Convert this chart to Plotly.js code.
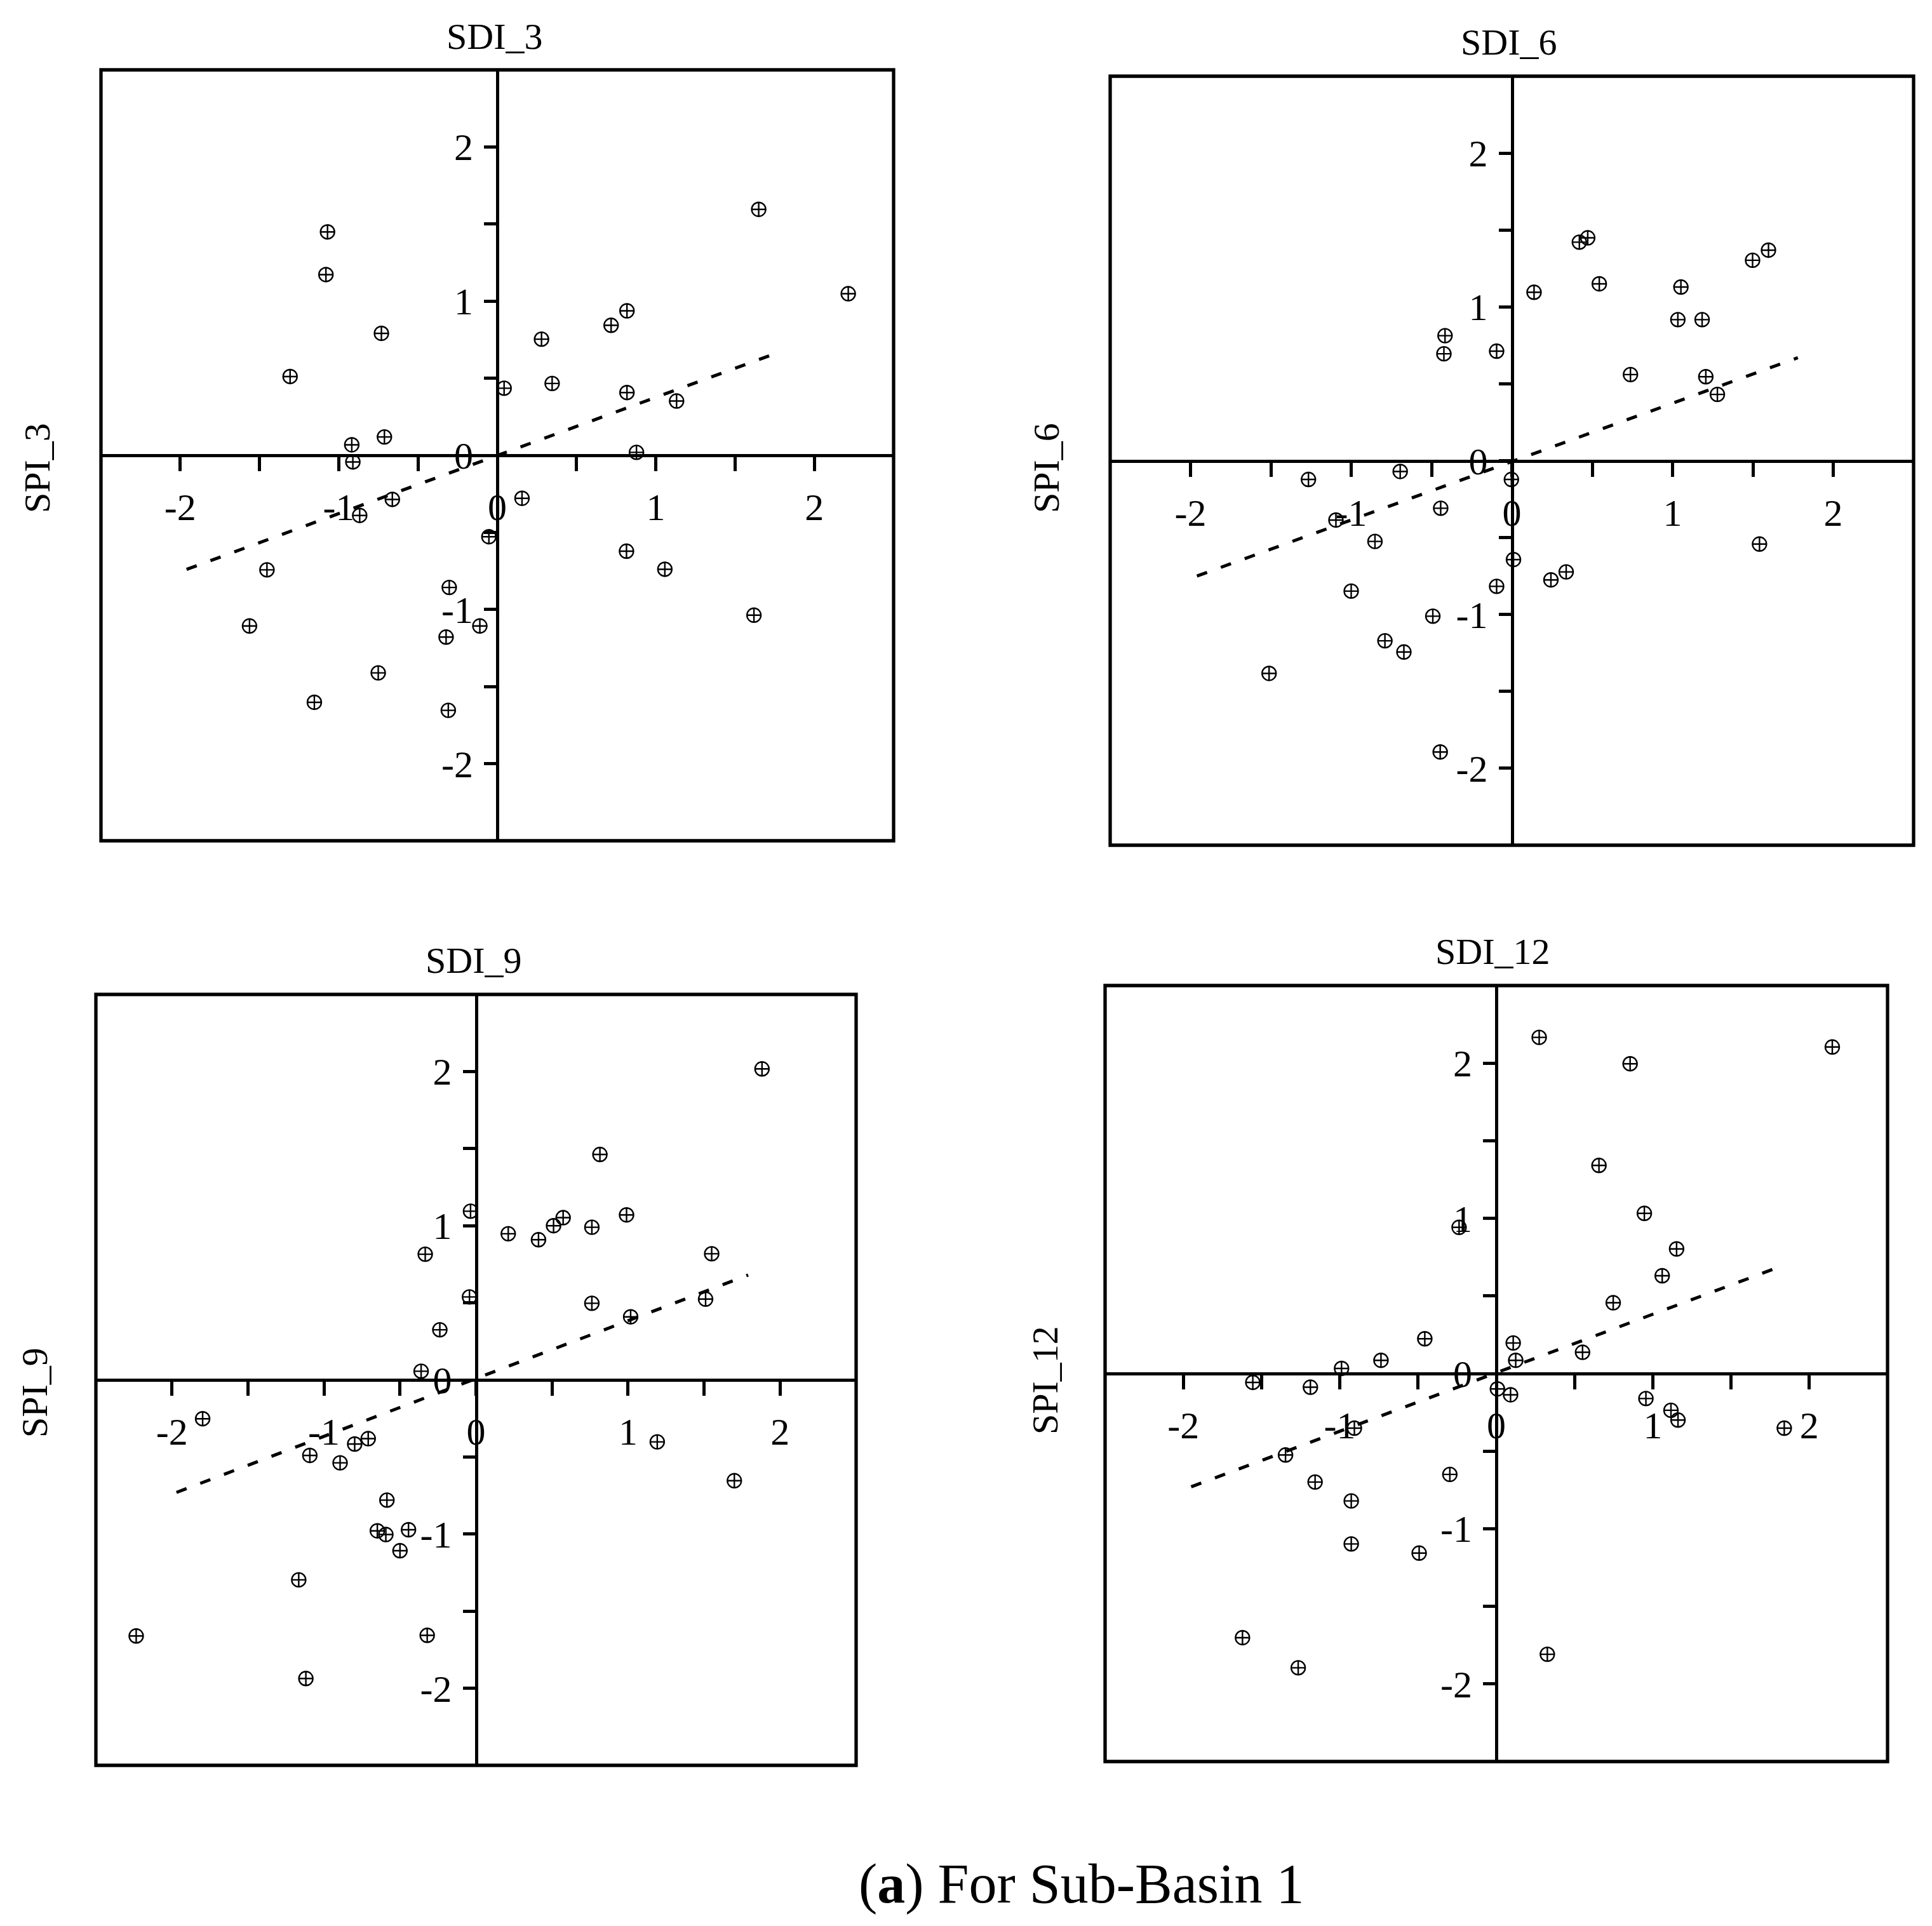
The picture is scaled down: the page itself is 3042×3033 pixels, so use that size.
<!DOCTYPE html>
<html>
<head>
<meta charset="utf-8">
<script src="https://cdn.plot.ly/plotly-3.0.1.min.js"></script>
<style>
  html, body { margin: 0; padding: 0; background: #fff; }
  #chart { width: 3042px; height: 3033px; }
</style>
</head>
<body>
<div id="chart"></div>
<script>
// ---------- data ----------
const sdi3 = [1.649, 2.214, -1.071, -1.081, -0.731, -1.307, 0.718, 0.818, 0.279, 0.043, 0.346, 0.818, 1.131, 0.878, -0.918, -0.911, -0.712, -0.662, -0.868, 0.156, -0.053, -1.453, -1.563, 0.815, 1.057, 1.619, -0.303, -0.323, -0.110, -0.751, -1.154, -0.309];
const spi3 = [1.595, 1.048, 1.449, 1.172, 0.791, 0.511, 0.843, 0.937, 0.753, 0.435, 0.466, 0.407, 0.352, 0.019, 0.068, -0.043, 0.119, -0.286, -0.390, -0.279, -0.528, -0.743, -1.107, -0.622, -0.739, -1.037, -0.857, -1.179, -1.107, -1.411, -1.602, -1.654];

const sdi6 = [0.420, 0.472, 0.544, 0.138, 1.498, 1.597, 1.052, 1.033, 1.184, -0.416, -0.423, -0.095, 0.738, 1.207, 1.279, -1.266, -0.695, -0.003, -1.095, -0.443, -0.852, 0.010, 0.243, 0.338, 1.541, -1.000, -0.095, -0.492, -0.790, -0.672, -1.511, -0.446];
const spi6 = [1.421, 1.449, 1.150, 1.095, 1.303, 1.369, 1.129, 0.917, 0.917, 0.813, 0.695, 0.712, 0.560, 0.546, 0.431, -0.122, -0.070, -0.122, -0.386, -0.309, -0.525, -0.643, -0.775, -0.723, -0.542, -0.848, -0.817, -1.011, -1.171, -1.244, -1.383, -1.894];

const sdi9 = [1.881, 0.815, -0.036, 0.990, 0.573, 0.510, 0.762, 0.212, 0.411, -0.334, 1.550, -0.043, 0.762, 1.510, 1.017, -0.238, -0.361, -1.798, -0.709, -0.798, -1.093, -0.894, 1.192, 1.699, -0.586, -0.649, -0.593, -0.444, -0.500, -1.166, -2.235, -0.321, -1.119];
const spi9 = [2.017, 1.462, 1.094, 1.070, 1.052, 1.000, 0.990, 0.948, 0.909, 0.815, 0.818, 0.538, 0.497, 0.524, 0.409, 0.325, 0.056, -0.252, -0.381, -0.416, -0.490, -0.538, -0.402, -0.654, -0.780, -0.979, -1.003, -0.972, -1.108, -1.297, -1.661, -1.657, -1.937];

const sdi12 = [0.274, 0.855, 2.147, 0.656, 0.946, -0.238, 1.152, 1.060, 0.747, -0.457, -0.737, -0.989, 0.108, 0.124, 0.551, -1.556, -1.188, 0.007, 0.091, 0.956, 1.116, 1.161, 1.840, -0.907, -1.347, -1.158, -0.297, -0.927, -0.927, -0.493, -1.622, -1.266, 0.326];
const spi12 = [2.166, 1.996, 2.104, 1.341, 1.032, 0.942, 0.803, 0.630, 0.456, 0.224, 0.085, 0.033, 0.197, 0.085, 0.137, -0.057, -0.088, -0.099, -0.137, -0.161, -0.237, -0.300, -0.352, -0.352, -0.525, -0.699, -0.650, -0.821, -1.098, -1.157, -1.702, -1.896, -1.809];

// fitted (dashed) line end points
const fit3X = [-1.96, 1.78],  fit3Y = [-0.74, 0.67];
const fit6X = [-1.96, 1.78],  fit6Y = [-0.75, 0.67];
const fit9X = [-1.97, 1.79],  fit9Y = [-0.73, 0.68];
const fit12X = [-1.95, 1.79], fit12Y = [-0.73, 0.68];

const tickVals = [-2, -1.5, -1, -0.5, 0, 0.5, 1, 1.5, 2];
const tickText = ['-2', '', '-1', '', '0', '', '1', '', '2'];

const xTitles = ['SDI_3', 'SDI_6', 'SDI_9', 'SDI_12'];
const yTitles = ['SPI_3', 'SPI_6', 'SPI_9', 'SPI_12'];
const caption = '(<b>a</b>) For Sub-Basin 1';

// ---------- layout geometry (pixels in the 3042x3033 page) ----------
const W = 3042, H = 3033;
const boxes = [
  {l: 159,  r: 1407, t: 110,  b: 1324},
  {l: 1748, r: 3013, t: 120,  b: 1331},
  {l: 151,  r: 1348, t: 1566, b: 2780},
  {l: 1740, r: 2972, t: 1552, b: 2774}
];
const titlePos = [
  {tx: 778, ty: 58,  yx: 58,   yy: 737},
  {tx: 2375, ty: 66, yx: 1647, yy: 737},
  {tx: 745, ty: 1512, yx: 54,  yy: 2193},
  {tx: 2350, ty: 1498, yx: 1645, yy: 2173}
];

const FONT = 'Liberation Serif, Times New Roman, serif';
const series = [[sdi3, spi3, fit3X, fit3Y], [sdi6, spi6, fit6X, fit6Y], [sdi9, spi9, fit9X, fit9Y], [sdi12, spi12, fit12X, fit12Y]];

const traces = [];
const layout = {
  width: W, height: H,
  margin: {l: 0, r: 0, t: 0, b: 0},
  paper_bgcolor: '#ffffff', plot_bgcolor: '#ffffff',
  showlegend: false,
  font: {family: FONT, color: '#000', size: 58},
  shapes: [], annotations: []
};

series.forEach((s, i) => {
  const n = i === 0 ? '' : String(i + 1);
  const xa = 'x' + n, ya = 'y' + n;
  traces.push({
    type: 'scatter', mode: 'lines', x: s[2], y: s[3], xaxis: xa, yaxis: ya,
    line: {color: '#000', width: 5, dash: '17px,23px'}, hoverinfo: 'skip'
  });
  traces.push({
    type: 'scatter', mode: 'markers', x: s[0], y: s[1], xaxis: xa, yaxis: ya,
    marker: {symbol: 'circle-cross-open', size: 22, color: '#000', line: {color: '#000', width: 2.4}},
    cliponaxis: false
  });
  const b = boxes[i];
  const xd = [b.l / W, b.r / W];
  const yd = [1 - b.b / H, 1 - b.t / H];
  const common = {
    range: [-2.5, 2.5], tickmode: 'array', tickvals: tickVals, ticktext: tickText,
    showgrid: false, zeroline: false, showline: true, linecolor: '#000', linewidth: 5.3,
    ticks: 'outside', tickwidth: 5, tickcolor: '#000',
    tickfont: {family: FONT, size: 60, color: '#000'}, fixedrange: true, automargin: false
  };
  layout['xaxis' + n] = Object.assign({}, common, {
    domain: xd, anchor: 'free', position: (yd[0] + yd[1]) / 2, side: 'bottom',
    ticklen: 22, ticklabelstandoff: 5
  });
  layout['yaxis' + n] = Object.assign({}, common, {
    domain: yd, anchor: 'free', position: (xd[0] + xd[1]) / 2, side: 'left',
    ticklen: 19, ticklabelstandoff: 5
  });
  layout.shapes.push({
    type: 'rect', xref: xa + ' domain', yref: ya + ' domain', x0: 0, x1: 1, y0: 0, y1: 1,
    line: {color: '#000', width: 5.3}, fillcolor: 'rgba(0,0,0,0)', layer: 'above'
  });
  const tp = titlePos[i];
  layout.annotations.push({
    xref: 'paper', yref: 'paper', x: tp.tx / W, y: 1 - tp.ty / H, xanchor: 'center', yanchor: 'middle',
    text: xTitles[i], showarrow: false, font: {family: FONT, size: 58, color: '#000'}
  });
  layout.annotations.push({
    xref: 'paper', yref: 'paper', x: tp.yx / W, y: 1 - tp.yy / H, xanchor: 'center', yanchor: 'middle',
    text: yTitles[i], textangle: -90, showarrow: false, font: {family: FONT, size: 58, color: '#000'}
  });
});

layout.annotations.push({
  xref: 'paper', yref: 'paper', x: 1703 / W, y: 1 - 2966 / H, xanchor: 'center', yanchor: 'middle',
  text: caption, showarrow: false, font: {family: FONT, size: 88, color: '#000'}
});

Plotly.newPlot('chart', traces, layout, {staticPlot: true, displayModeBar: false});
</script>
</body>
</html>
